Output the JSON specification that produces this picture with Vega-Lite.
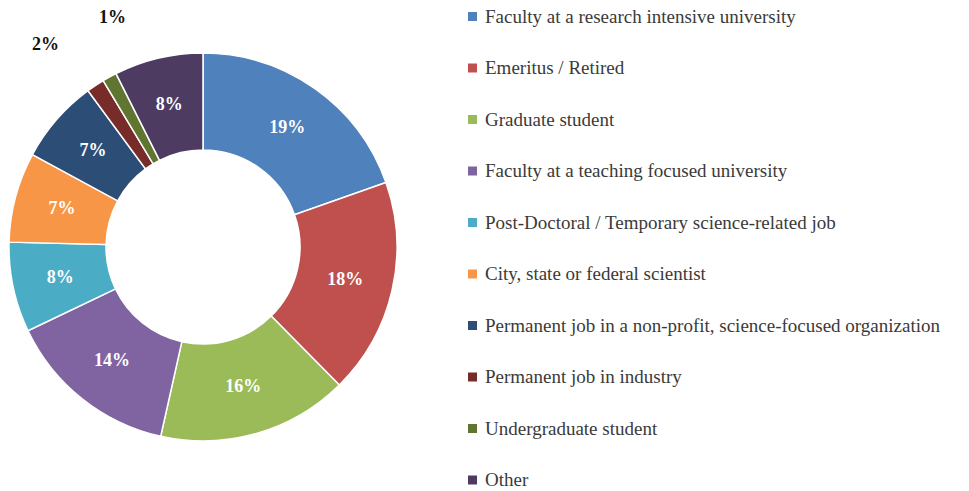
{
  "$schema": "https://vega.github.io/schema/vega-lite/v6.json",
  "width": 406,
  "height": 494,
  "autosize": {"type": "none"},
  "padding": {"left": 0, "top": 0, "right": 563, "bottom": 0},
  "background": "white",
  "config": {"view": {"stroke": null}},
  "data": {
    "values": [
      {"i": 1, "category": "Faculty at a research intensive university", "v": 19.6, "label": "19%"},
      {"i": 2, "category": "Emeritus / Retired", "v": 18.0, "label": "18%"},
      {"i": 3, "category": "Graduate student", "v": 15.9, "label": "16%"},
      {"i": 4, "category": "Faculty at a teaching focused university", "v": 14.4, "label": "14%"},
      {"i": 5, "category": "Post-Doctoral / Temporary science-related job", "v": 7.5, "label": "8%"},
      {"i": 6, "category": "City, state or federal scientist", "v": 7.5, "label": "7%"},
      {"i": 7, "category": "Permanent job in a non-profit, science-focused organization", "v": 7.0, "label": "7%"},
      {"i": 8, "category": "Permanent job in industry", "v": 1.5, "label": "2%"},
      {"i": 9, "category": "Undergraduate student", "v": 1.2, "label": "1%"},
      {"i": 10, "category": "Other", "v": 7.4, "label": "8%"}
    ]
  },
  "encoding": {
    "theta": {"field": "v", "type": "quantitative", "stack": true, "scale": {"domain": [0, 100]}},
    "order": {"field": "i", "type": "quantitative", "sort": "ascending"}
  },
  "layer": [
    {
      "mark": {"type": "arc", "outerRadius": 194, "innerRadius": 97, "stroke": "white", "strokeWidth": 1.5},
      "encoding": {
        "color": {
          "field": "category",
          "type": "nominal",
          "sort": null,
          "scale": {
            "domain": [
              "Faculty at a research intensive university",
              "Emeritus / Retired",
              "Graduate student",
              "Faculty at a teaching focused university",
              "Post-Doctoral / Temporary science-related job",
              "City, state or federal scientist",
              "Permanent job in a non-profit, science-focused organization",
              "Permanent job in industry",
              "Undergraduate student",
              "Other"
            ],
            "range": ["#4F81BD", "#C0504D", "#9BBB59", "#8064A2", "#4BACC6", "#F79646", "#2C4D75", "#772C2A", "#5F7530", "#4D3B62"]
          },
          "legend": {
            "title": null,
            "orient": "none",
            "legendX": 463,
            "legendY": 7,
            "symbolType": "square",
            "symbolSize": 81,
            "symbolStrokeWidth": 0,
            "labelFont": "Liberation Serif",
            "labelFontSize": 19,
            "labelColor": "#3a3a3a",
            "labelLimit": 600,
            "labelOffset": 3,
            "rowPadding": 31.5
          }
        }
      }
    },
    {
      "mark": {"type": "text", "radius": 146, "font": "Liberation Serif", "fontSize": 18, "fontWeight": "bold", "fill": "white", "align": "center", "baseline": "middle"},
      "encoding": {
        "text": {"condition": {"test": "datum.v >= 3", "field": "label"}, "value": ""}
      }
    },
    {
      "mark": {"type": "text", "radius": 250, "dx": -19, "dy": 6, "font": "Liberation Serif", "fontSize": 18, "fontWeight": "bold", "fill": "#111111", "align": "center", "baseline": "middle"},
      "encoding": {
        "text": {"condition": {"test": "datum.i == 8", "field": "label"}, "value": ""}
      }
    },
    {
      "mark": {"type": "text", "radius": 250, "dx": 30, "dy": -10, "font": "Liberation Serif", "fontSize": 18, "fontWeight": "bold", "fill": "#111111", "align": "center", "baseline": "middle"},
      "encoding": {
        "text": {"condition": {"test": "datum.i == 9", "field": "label"}, "value": ""}
      }
    }
  ]
}
